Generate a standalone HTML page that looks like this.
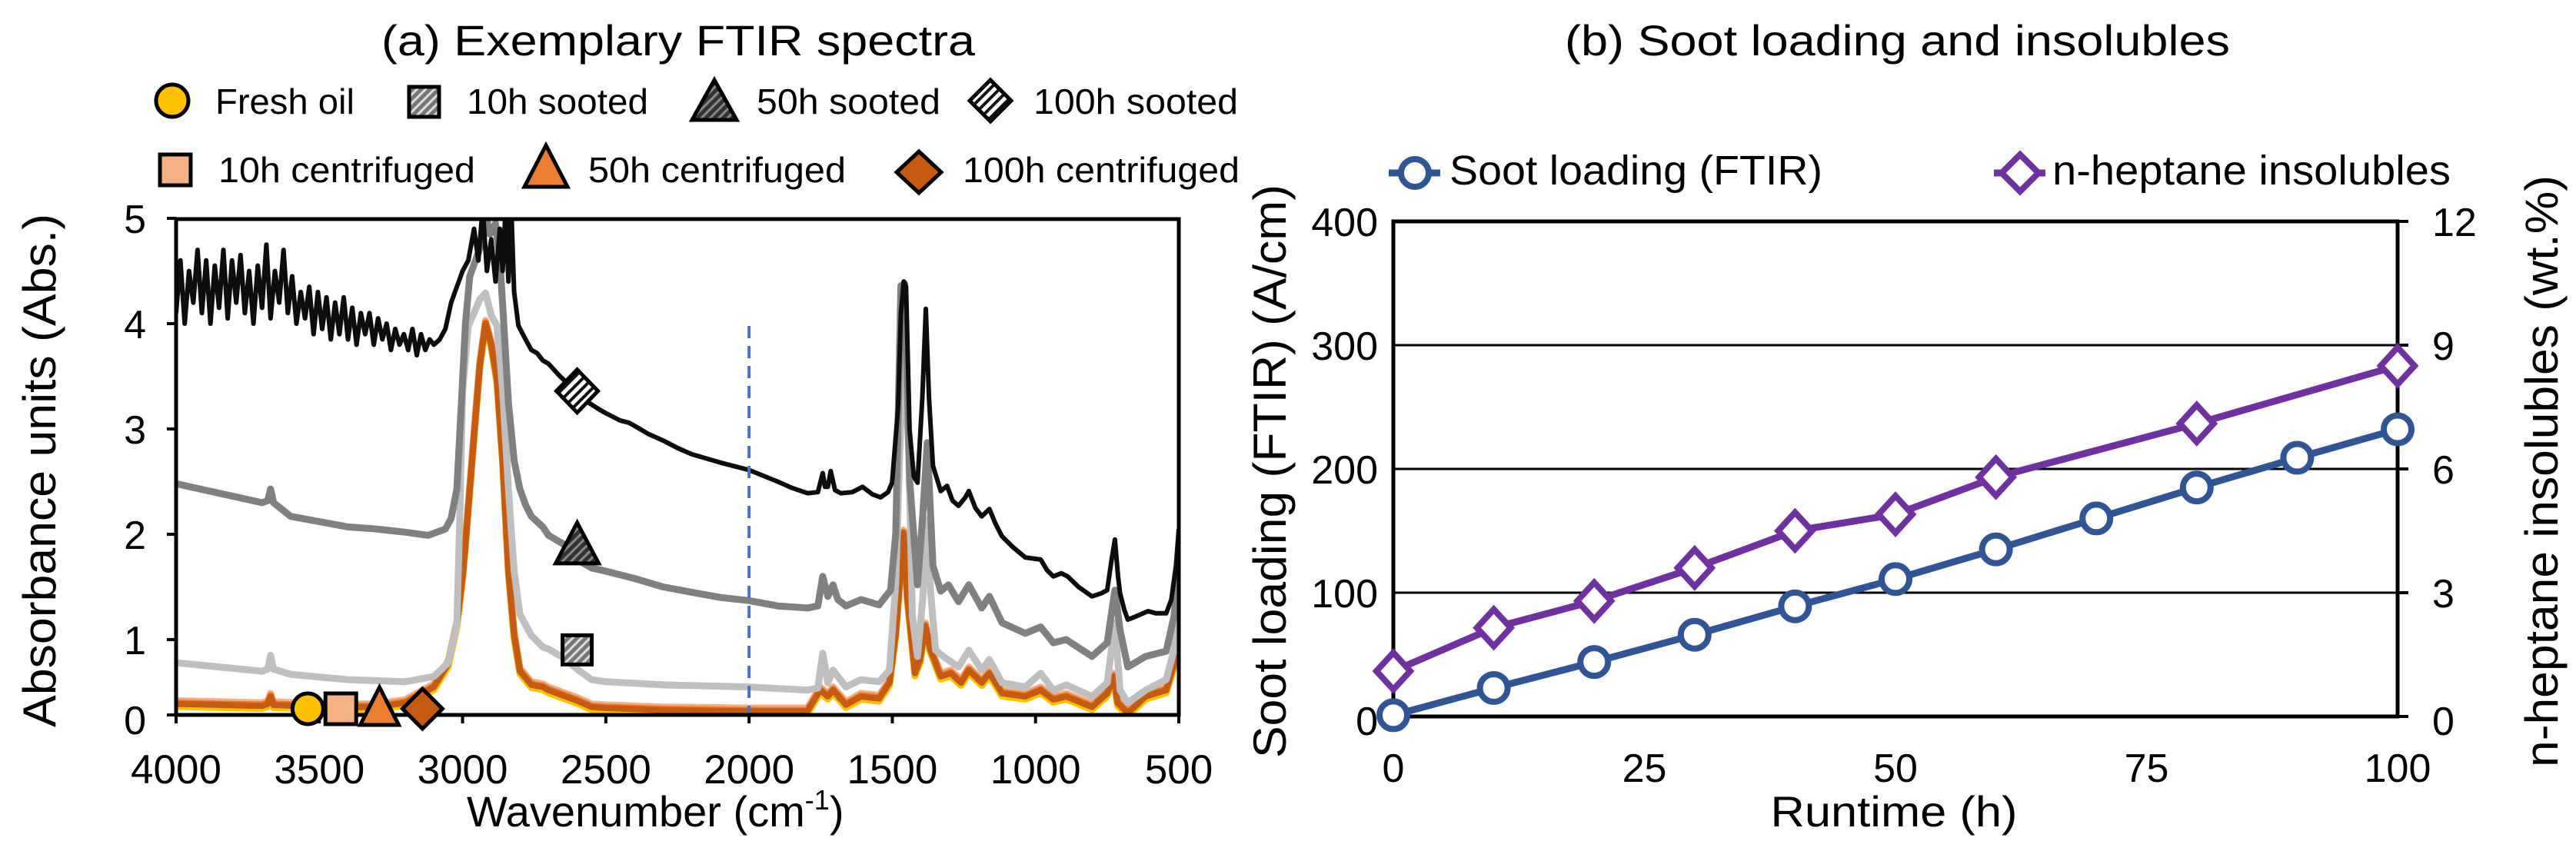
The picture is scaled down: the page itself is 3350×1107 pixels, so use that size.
<!DOCTYPE html>
<html><head><meta charset="utf-8">
<style>
html,body{margin:0;padding:0;background:#fff;}
svg{display:block;font-family:"Liberation Sans",Arial,sans-serif;}
</style></head>
<body>
<svg id="fig" width="3350" height="1107" viewBox="0 0 3350 1107" xmlns="http://www.w3.org/2000/svg">
<defs>
  <clipPath id="clipA"><rect x="229" y="285" width="1304" height="645"/></clipPath>
  <pattern id="hatchGrey" width="8" height="8" patternUnits="userSpaceOnUse" patternTransform="rotate(45)"><rect width="8" height="8" fill="#777"/><rect width="3" height="8" fill="#ddd"/></pattern>
  <pattern id="hatchDark" width="8" height="8" patternUnits="userSpaceOnUse" patternTransform="rotate(45)"><rect width="8" height="8" fill="#333"/><rect width="3" height="8" fill="#888"/></pattern>
  <pattern id="hatchWhite" width="9" height="9" patternUnits="userSpaceOnUse" patternTransform="rotate(45)"><rect width="9" height="9" fill="#fff"/><rect width="4" height="9" fill="#111"/></pattern>
</defs>

<text x="496" y="72" font-size="56" textLength="772" lengthAdjust="spacingAndGlyphs">(a) Exemplary FTIR spectra</text>
<text x="2035" y="72" font-size="56" textLength="865" lengthAdjust="spacingAndGlyphs">(b) Soot loading and insolubles</text>

<g stroke="#000" stroke-width="5">
  <circle cx="224" cy="131" r="21" fill="#FFC000"/>
  <rect x="532" y="113" width="39" height="39" fill="url(#hatchGrey)"/>
  <polygon points="929,104 958,156 900,156" fill="url(#hatchDark)"/>
  <polygon points="1288,104 1315,131 1288,158 1261,131" fill="url(#hatchWhite)"/>
  <rect x="208" y="201" width="40" height="40" fill="#F4B183"/>
  <polygon points="710,189 738,243 682,243" fill="#ED7D31"/>
  <polygon points="1195,197 1224,224 1195,251 1166,224" fill="#C55A11"/>
</g>
<g font-size="46">
  <text x="280" y="148" textLength="181" lengthAdjust="spacingAndGlyphs">Fresh oil</text>
  <text x="607" y="148" textLength="236" lengthAdjust="spacingAndGlyphs">10h sooted</text>
  <text x="984" y="148" textLength="239" lengthAdjust="spacingAndGlyphs">50h sooted</text>
  <text x="1344" y="148" textLength="266" lengthAdjust="spacingAndGlyphs">100h sooted</text>
  <text x="284" y="237" textLength="334" lengthAdjust="spacingAndGlyphs">10h centrifuged</text>
  <text x="765" y="237" textLength="335" lengthAdjust="spacingAndGlyphs">50h centrifuged</text>
  <text x="1252" y="237" textLength="360" lengthAdjust="spacingAndGlyphs">100h centrifuged</text>
</g>

<g id="chartA"></g>
<g id="chartB"></g>

<text transform="translate(72,612) rotate(-90)" text-anchor="middle" font-size="60" textLength="668" lengthAdjust="spacingAndGlyphs">Absorbance units (Abs.)</text>
<text x="607" y="1075" font-size="56">Wavenumber (cm<tspan font-size="36" dy="-22">-1</tspan><tspan dy="22">)</tspan></text>
<text transform="translate(1672,613) rotate(-90)" text-anchor="middle" font-size="60" textLength="746" lengthAdjust="spacingAndGlyphs">Soot loading (FTIR) (A/cm)</text>
<text transform="translate(3326,613) rotate(-90)" text-anchor="middle" font-size="60" textLength="770" lengthAdjust="spacingAndGlyphs">n-heptane insolubles (wt.%)</text>
<text x="2463" y="1075" text-anchor="middle" font-size="56" textLength="321" lengthAdjust="spacingAndGlyphs">Runtime (h)</text>

<g>
  <line x1="1806" y1="225" x2="1873" y2="225" stroke="#2F5597" stroke-width="9"/>
  <circle cx="1840" cy="225" r="18" fill="#fff" stroke="#2F5597" stroke-width="8"/>
  <text x="1885" y="240" font-size="54" textLength="485" lengthAdjust="spacingAndGlyphs">Soot loading (FTIR)</text>
  <line x1="2593" y1="225" x2="2660" y2="225" stroke="#7030A0" stroke-width="9"/>
  <polygon points="2627,201 2651,225 2627,249 2603,225" fill="#fff" stroke="#7030A0" stroke-width="8"/>
  <text x="2669" y="240" font-size="54" textLength="518" lengthAdjust="spacingAndGlyphs">n-heptane insolubles</text>
</g>
</svg>

<script>
// ===== Chart A data (wavenumber cm-1, absorbance) =====
const wn100 = [4000,3985,3970,3955,3940,3925,3910,3895,3880,3865,3850,3835,3820,3805,3790,3775,3760,3745,3730,3715,3700,3685,3670,3655,3640,3625,3610,3595,3580,3565,3550,3535,3520,3505,3490,3475,3460,3445,3430,3415,3400,3385,3370,3355,3340,3325,3310,3295,3280,3265,3250,3235,3220,3205,3190,3175,3160,3145,3130,3115,3100,3080,3060,3040,3020,3000,2980,2960,2945,2930,2915,2900,2885,2870,2860,2850,2840,2830,2820,2805,2780,2760,2740,2720,2700,2660,2620,2600,2560,2520,2500,2450,2420,2400,2350,2300,2250,2200,2100,2000,1900,1850,1796,1760,1743,1735,1725,1715,1700,1680,1640,1604,1570,1541,1515,1501,1480,1470,1460,1452,1440,1425,1412,1395,1383,1372,1358,1331,1309,1290,1269,1245,1233,1210,1188,1161,1140,1117,1080,1036,982,960,938,910,888,850,803,770,750,735,723,712,705,690,678,650,607,580,544,526,510,500];
const abs100 = [4.1,4.6,4.0,4.5,4.2,4.7,4.1,4.6,4.0,4.55,4.15,4.7,4.05,4.6,4.2,4.65,4.1,4.5,4.0,4.55,4.15,4.75,4.05,4.5,4.2,4.7,4.1,4.45,4.0,4.3,4.05,4.35,3.9,4.3,3.95,4.25,3.85,4.2,3.9,4.25,3.85,4.15,3.8,4.1,3.9,4.1,3.8,4.05,3.85,4.0,3.75,3.95,3.8,3.9,3.75,3.95,3.7,3.9,3.75,3.85,3.8,3.85,3.95,4.2,4.35,4.5,4.6,4.9,4.6,5.1,4.5,4.8,4.4,4.9,4.5,5.1,4.4,5.1,4.3,3.98,3.85,3.75,3.72,3.65,3.62,3.5,3.4,3.36,3.25,3.18,3.15,3.08,3.06,3.03,2.95,2.89,2.82,2.76,2.68,2.61,2.5,2.44,2.39,2.4,2.58,2.45,2.45,2.6,2.42,2.39,2.4,2.45,2.38,2.35,2.4,2.49,3.2,4.1,4.4,4.35,3.0,2.55,2.49,3.3,4.14,3.3,2.65,2.41,2.46,2.32,2.27,2.35,2.41,2.25,2.17,2.24,2.1,1.98,1.88,1.78,1.76,1.66,1.6,1.63,1.6,1.5,1.41,1.44,1.47,1.75,1.95,1.6,1.44,1.28,1.19,1.22,1.27,1.25,1.25,1.38,1.7,2.05];
const wn50 = [4000,3900,3800,3700,3680,3670,3660,3600,3500,3400,3300,3200,3120,3060,3040,3020,3005,2990,2975,2955,2935,2920,2905,2885,2870,2860,2840,2820,2800,2780,2760,2720,2700,2650,2600,2550,2500,2400,2300,2200,2100,2000,1900,1796,1760,1743,1725,1707,1690,1662,1609,1546,1506,1488,1470,1457,1439,1412,1394,1378,1358,1331,1304,1269,1233,1188,1161,1117,1036,982,938,893,803,750,735,723,705,678,616,544,517,499];
const abs50 = [2.48,2.42,2.36,2.30,2.32,2.43,2.3,2.17,2.12,2.07,2.05,2.02,1.99,2.05,2.15,2.43,3.2,4.0,4.45,4.6,4.75,5.05,4.85,4.95,4.6,4.18,3.25,2.7,2.43,2.28,2.17,2.07,1.99,1.91,1.76,1.68,1.65,1.58,1.5,1.45,1.4,1.37,1.32,1.30,1.32,1.6,1.41,1.52,1.38,1.32,1.38,1.33,1.47,2.01,4.36,4.38,2.49,1.52,2.17,2.87,1.70,1.46,1.52,1.36,1.52,1.30,1.41,1.16,1.06,1.12,0.97,1.0,0.84,0.97,1.25,1.47,1.09,0.74,0.84,0.89,1.22,1.70];
const wn10 = [4000,3850,3700,3680,3670,3660,3600,3400,3200,3100,3050,3020,3010,3000,2980,2960,2940,2920,2900,2880,2860,2840,2820,2800,2760,2720,2700,2650,2600,2550,2500,2300,2000,1796,1760,1743,1725,1707,1662,1609,1546,1510,1488,1470,1457,1443,1430,1412,1394,1380,1367,1349,1322,1269,1233,1188,1161,1117,1036,982,938,893,803,750,723,705,678,616,544,517,495];
const abs10 = [0.78,0.74,0.70,0.72,0.85,0.72,0.67,0.62,0.6,0.65,0.78,1.14,2.12,3.36,3.98,4.1,4.23,4.29,4.08,3.98,3.36,2.43,1.65,1.24,1.04,0.93,0.91,0.83,0.72,0.62,0.6,0.57,0.55,0.52,0.54,0.87,0.59,0.71,0.55,0.62,0.60,0.71,1.54,3.13,3.66,2.81,1.22,0.84,1.38,2.14,1.47,0.90,0.84,0.74,0.90,0.71,0.81,0.59,0.55,0.68,0.52,0.57,0.46,0.59,1.16,0.52,0.40,0.52,0.62,0.90,1.47];
const wnC = [4000,3850,3700,3680,3670,3660,3500,3300,3200,3100,3050,3020,3000,2990,2960,2940,2920,2900,2880,2860,2840,2820,2800,2760,2720,2700,2650,2600,2550,2500,2300,2000,1796,1752,1725,1707,1662,1609,1546,1510,1488,1461,1447,1421,1403,1385,1367,1331,1296,1260,1233,1188,1161,1117,1036,982,938,893,803,750,727,714,678,616,544,508,495];
const absC = [0.39,0.38,0.37,0.39,0.46,0.38,0.36,0.36,0.40,0.55,0.77,1.14,1.6,1.91,2.94,3.6,4.0,3.8,3.46,2.69,1.65,1.04,0.7,0.57,0.55,0.52,0.47,0.42,0.36,0.35,0.33,0.32,0.32,0.52,0.46,0.52,0.38,0.46,0.44,0.59,1.06,2.01,1.38,0.68,0.81,1.13,0.90,0.65,0.68,0.59,0.71,0.59,0.68,0.49,0.46,0.52,0.43,0.46,0.36,0.49,0.65,0.40,0.30,0.46,0.52,0.84,1.28];
const offsetFresh = -0.025, offset10c = 0.03, offset50c = 0.01;
const xTicksA = [4000,3500,3000,2500,2000,1500,1000,500];
const yTicksA = [0,1,2,3,4,5];
const markerWnA = [3540,3425,3290,3140];

// ===== Chart B data =====
const runtimeSoot = [0,10,20,30,40,50,60,70,80,90,100];
const sootLoading = [1,23,44,66,89,111,135,160,185,209,232];
const runtimeHept = [0,10,20,30,40,50,60,80,100];
const heptaneInsol = [1.1,2.15,2.8,3.6,4.5,4.9,5.8,7.1,8.5];
const xTicksB = [0,25,50,75,100];
const yTicksB = [0,100,200,300,400];
const y2TicksB = [0,3,6,9,12];

const NS = "http://www.w3.org/2000/svg";
function mk(tag, attrs, parent){ const e=document.createElementNS(NS,tag); for(const k in attrs) e.setAttribute(k,attrs[k]); parent.appendChild(e); return e; }

const A_L=229, A_R=1533, A_T=285, A_B=930;
function xA(w){ return A_L + (4000-w)*(A_R-A_L)/3500; }
function yA(a){ return 969 - 137*a; }
const gA = document.getElementById('chartA');
function linePath(xs, ys, off, fx, fy){ let d=''; for(let i=0;i<xs.length;i++){ d += (i?'L':'M') + fx(xs[i]).toFixed(1) + ',' + fy(ys[i]+off).toFixed(1); } return d; }
function interp(xs, ys, w){ for(let i=0;i<xs.length-1;i++){ if((xs[i]-w)*(xs[i+1]-w)<=0){ const t=(w-xs[i])/(xs[i+1]-xs[i]); return ys[i]+t*(ys[i+1]-ys[i]); } } return ys[ys.length-1]; }

const clipG = mk('g',{'clip-path':'url(#clipA)'},gA);


const specs = [
  {xs:wnC, ys:absC, off:offsetFresh, c:'#FFC000', w:9, n:'line-fresh-oil'},
  {xs:wnC, ys:absC, off:offset10c, c:'#F4B183', w:9, n:'line-10h-centrifuged'},
  {xs:wnC, ys:absC, off:offset50c, c:'#ED7D31', w:9, n:'line-50h-centrifuged'},
  {xs:wnC, ys:absC, off:0, c:'#C55A11', w:8, n:'line-100h-centrifuged'},
  {xs:wn10, ys:abs10, off:0, c:'#BFBFBF', w:9, n:'line-10h-sooted'},
  {xs:wn50, ys:abs50, off:0, c:'#808080', w:9, n:'line-50h-sooted'},
  {xs:wn100, ys:abs100, off:0, c:'#0D0D0D', w:6, n:'line-100h-sooted'}
];
specs.forEach(s=>{
  const p = mk('path',{d:linePath(s.xs,s.ys,s.off,xA,yA),fill:'none',stroke:s.c,'stroke-width':s.w,'stroke-linejoin':'round'},clipG);
  
  
});
const dl = mk('line',{x1:xA(2000),x2:xA(2000),y1:424,y2:A_B,stroke:'#4472C4','stroke-width':4,'stroke-dasharray':'16,10'},gA);


const fr = mk('rect',{x:A_L,y:A_T,width:A_R-A_L,height:A_B-A_T,fill:'none',stroke:'#000','stroke-width':5},gA);


yTicksA.forEach(v=>{
  const y = v===0 ? A_B : yA(v);
  mk('line',{x1:A_L-12,x2:A_L,y1:y,y2:y,stroke:'#000','stroke-width':4},gA);
  const t = mk('text',{x:190,y:y+(v===0?25:19),'text-anchor':'end','font-size':52},gA);
  t.textContent = v;
  
  
});
xTicksA.forEach(w=>{
  const x = xA(w);
  mk('line',{x1:x,x2:x,y1:A_B,y2:A_B+11,stroke:'#000','stroke-width':4},gA);
  const t = mk('text',{x:x,y:1019,'text-anchor':'middle','font-size':53},gA);
  t.textContent = w;
  
  
});
const mG = mk('g',{stroke:'#000','stroke-width':5},gA);


(function(){
  let x = xA(2600), y = yA(interp(wn100,abs100,2600));
  const m1 = mk('polygon',{points:`${x},${y-28} ${x+27},${y} ${x},${y+28} ${x-27},${y}`,fill:'url(#hatchWhite)'},mG);
  
  
  y = yA(interp(wn50,abs50,2600)) - 20;
  const m2 = mk('polygon',{points:`${x},${y-28} ${x+28},${y+25} ${x-28},${y+25}`,fill:'url(#hatchDark)'},mG);
  
  
  y = yA(interp(wn10,abs10,2600)) - 25;
  const m3 = mk('rect',{x:x-19,y:y-19,width:38,height:38,fill:'url(#hatchGrey)'},mG);
  
  
  const by = 922;
  x = xA(markerWnA[0]);
  const b1 = mk('circle',{cx:x,cy:by,r:20,fill:'#FFC000'},mG);
  
  
  x = xA(markerWnA[1]);
  const b2 = mk('rect',{x:x-20,y:by-20,width:40,height:40,fill:'#F4B183'},mG);
  
  
  x = xA(markerWnA[2]);
  const b3 = mk('polygon',{points:`${x},${by-28} ${x+25},${by+21} ${x-25},${by+21}`,fill:'#ED7D31'},mG);
  
  
  x = xA(markerWnA[3]);
  const b4 = mk('polygon',{points:`${x},${by-26} ${x+26},${by} ${x},${by+26} ${x-26},${by}`,fill:'#C55A11'},mG);
  
  
})();

const B_L=1812, B_R=3118, B_T=288, B_B=932;
function xB(t){ return B_L + t*(B_R-B_L)/100; }
function yB(v){ return B_B - v*(B_B-B_T)/400; }
function y2B(v){ return B_B - v*(B_B-B_T)/12; }
const gB = document.getElementById('chartB');
yTicksB.forEach(v=>{
  if(v>0 && v<400){
    const gl = mk('line',{x1:B_L,x2:B_R,y1:yB(v),y2:yB(v),stroke:'#000','stroke-width':3},gB);
    
    
  }
  const t = mk('text',{x:1792,y:yB(v)+(v===0?24:19),'text-anchor':'end','font-size':52},gB);
  t.textContent = v;
  
  
});
y2TicksB.forEach(v=>{
  mk('line',{x1:B_R,x2:B_R+14,y1:y2B(v),y2:y2B(v),stroke:'#000','stroke-width':4},gB);
  const t = mk('text',{x:3163,y:y2B(v)+(v===0?24:19),'font-size':52},gB);
  t.textContent = v;
  
  
});
xTicksB.forEach(v=>{
  const t = mk('text',{x:xB(v),y:1017,'text-anchor':'middle','font-size':52},gB);
  t.textContent = v;
  
  
});
const frB = mk('rect',{x:B_L,y:B_T,width:B_R-B_L,height:B_B-B_T,fill:'none',stroke:'#000','stroke-width':5},gB);


let dH=''; runtimeHept.forEach((t,i)=>{ dH += (i?'L':'M')+xB(t)+','+y2B(heptaneInsol[i]); });
const lH = mk('path',{d:dH,fill:'none',stroke:'#7030A0','stroke-width':9,'stroke-linejoin':'round'},gB);


runtimeHept.forEach((t,i)=>{
  const x=xB(t), y=y2B(heptaneInsol[i]);
  const m = mk('polygon',{points:`${x},${y-24} ${x+22},${y} ${x},${y+24} ${x-22},${y}`,fill:'#fff',stroke:'#7030A0','stroke-width':8},gB);
  
  
});
let dS=''; runtimeSoot.forEach((t,i)=>{ dS += (i?'L':'M')+xB(t)+','+yB(sootLoading[i]); });
const lS = mk('path',{d:dS,fill:'none',stroke:'#2F5597','stroke-width':9,'stroke-linejoin':'round'},gB);


runtimeSoot.forEach((t,i)=>{
  const m = mk('circle',{cx:xB(t),cy:yB(sootLoading[i]),r:18,fill:'#fff',stroke:'#2F5597','stroke-width':8},gB);
  
  
});
</script>
</body></html>
